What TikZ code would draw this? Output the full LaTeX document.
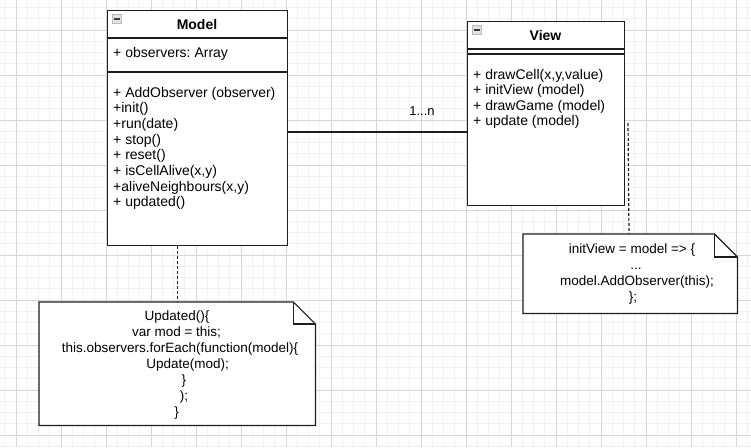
\documentclass[tikz,border=0pt]{standalone}
\usepackage{fontspec}
\setmainfont{Liberation Sans}
\frenchspacing
\definecolor{gridminor}{HTML}{F2F2F2}
\definecolor{gridmajor}{HTML}{D6D6D6}
\definecolor{edge}{HTML}{1E1E1E}
\begin{document}
\begin{tikzpicture}[x=1pt,y=-1pt,
  box/.style={draw=edge, line width=1.2pt, fill=white, anchor=north west, inner sep=0pt},
  sep/.style={draw=edge, line width=1.2pt},
  txt/.style={font=\fontsize{14}{16}\selectfont, inner sep=0pt, anchor=base west},
  ttl/.style={font=\bfseries\fontsize{14}{16}\selectfont, inner sep=0pt, anchor=base},
  ntxt/.style={font=\fontsize{13.5}{16}\selectfont, inner sep=0pt, anchor=base},
  notearea/.style={anchor=north west, inner sep=0pt},
  note/.style={draw=edge, line width=1.2pt, fill=white},
  dotline/.style={draw=edge, line width=1.2pt, dash pattern=on 3pt off 2pt},
  icon/.style={draw=gray!55, fill=gray!22, line width=0.6pt, minimum width=9.5pt, minimum height=9pt, inner sep=0pt},
  iconbar/.style={draw=gray!45!black, line width=2pt},
]
\useasboundingbox (0,0) rectangle (751,447);
\fill[white] (0,0) rectangle (751,447);
% grid
\foreach \i in {0,...,66} \draw[gridminor, line width=0.9pt] ({4.75+11.25*\i},0) -- ++(0,447);
\foreach \i in {0,...,39} \draw[gridminor, line width=0.9pt] (0,{7.5+11.25*\i}) -- ++(751,0);
\foreach \i in {0,...,16} \draw[gridmajor, line width=0.9pt] ({16+45*\i},0) -- ++(0,447);
\foreach \i in {0,...,9} \draw[gridmajor, line width=0.9pt] (0,{30+45*\i}) -- ++(751,0);

% Model class
\node[box, minimum width=180pt, minimum height=235pt] (model) at (107,10) {};
\draw[sep] (107,38) -- (287,38);
\draw[sep] (107,72) -- (287,72);
\node[icon] (micon) at (117,19) {};
\draw[iconbar] ([xshift=-3pt]micon.center) -- ([xshift=3pt]micon.center);
\node[ttl] (mtitle) at (197,29) {Model};
\node[txt] (mattr) at (113,57.3) {+ observers: Array};
\node[txt] (mm0) at (113,97) {+ AddObserver (observer)};
\node[txt] (mm1) at (113,112.7) {+init()};
\node[txt] (mm2) at (113,128.4) {+run(date)};
\node[txt] (mm3) at (113,144.1) {+ stop()};
\node[txt] (mm4) at (113,159.8) {+ reset()};
\node[txt] (mm5) at (113,175.5) {+ isCellAlive(x,y)};
\node[txt] (mm6) at (113,191.2) {+aliveNeighbours(x,y)};
\node[txt] (mm7) at (113,206.9) {+ updated()};

% View class
\node[box, minimum width=157pt, minimum height=184pt] (view) at (467,21) {};
\draw[sep] (467,49) -- (624,49);
\draw[sep] (467,54) -- (624,54);
\node[icon] (vicon) at (477,29.5) {};
\draw[iconbar] ([xshift=-3pt]vicon.center) -- ([xshift=3pt]vicon.center);
\node[ttl] (vtitle) at (545.5,40) {View};
\node[txt] (vm0) at (473,79) {+ drawCell(x,y,value)};
\node[txt] (vm1) at (473,94.6) {+ initView (model)};
\node[txt] (vm2) at (473,110.2) {+ drawGame (model)};
\node[txt] (vm3) at (473,125.8) {+ update (model)};

% association
\draw[edge, line width=1.1pt] (model.east |- 0,132) -- (view.west |- 0,132);
\node[font=\fontsize{13}{15}\selectfont, inner sep=0pt, anchor=base] (mult) at (422,115.7) {1...n};

% Model note
\node[notearea, minimum width=276pt, minimum height=123pt] (mnote) at (39,302) {};
\draw[note] (mnote.north west) -- ([xshift=-22pt]mnote.north east) -- ([yshift=-22pt]mnote.north east) -- (mnote.south east) -- (mnote.south west) -- cycle;
\draw[edge, line width=1.2pt] ([xshift=-22pt]mnote.north east) -- ([xshift=-22pt,yshift=-22pt]mnote.north east) -- ([yshift=-22pt]mnote.north east);
\draw[dotline] (mnote.north |- model.south) -- (mnote.north);
\node[ntxt] (n1) at (177,320) {Updated()\{};
\node[ntxt] (n2) at (176.5,336) {var mod = this;};
\node[ntxt] (n3) at (180,352) {this.observers.forEach(function(model)\{};
\node[ntxt] (n4) at (187.7,368.5) {Update(mod);};
\node[ntxt] (n5) at (184,384.5) {\}};
\node[ntxt] (n6) at (184,400.5) {);};
\node[ntxt] (n7) at (176.7,416.7) {\}};

% View note
\node[notearea, minimum width=214pt, minimum height=79pt] (vnote) at (523,234) {};
\draw[note] (vnote.north west) -- ([xshift=-23pt]vnote.north east) -- ([yshift=-23pt]vnote.north east) -- (vnote.south east) -- (vnote.south west) -- cycle;
\draw[edge, line width=1.2pt] ([xshift=-23pt]vnote.north east) -- ([xshift=-23pt,yshift=-23pt]vnote.north east) -- ([yshift=-23pt]vnote.north east);
\coordinate (vtail) at (628,123);
\coordinate (vhead) at (629,234);
\draw[dotline] (vtail) -- (vhead);
\node[ntxt] (v1) at (632,253.5) {initView = model => \{};
\node[ntxt] (v2) at (636,269.5) {...};
\node[ntxt] (v3) at (637,285.5) {model.AddObserver(this);};
\node[ntxt] (v4) at (633,301.5) {\};};
\end{tikzpicture}
\end{document}
